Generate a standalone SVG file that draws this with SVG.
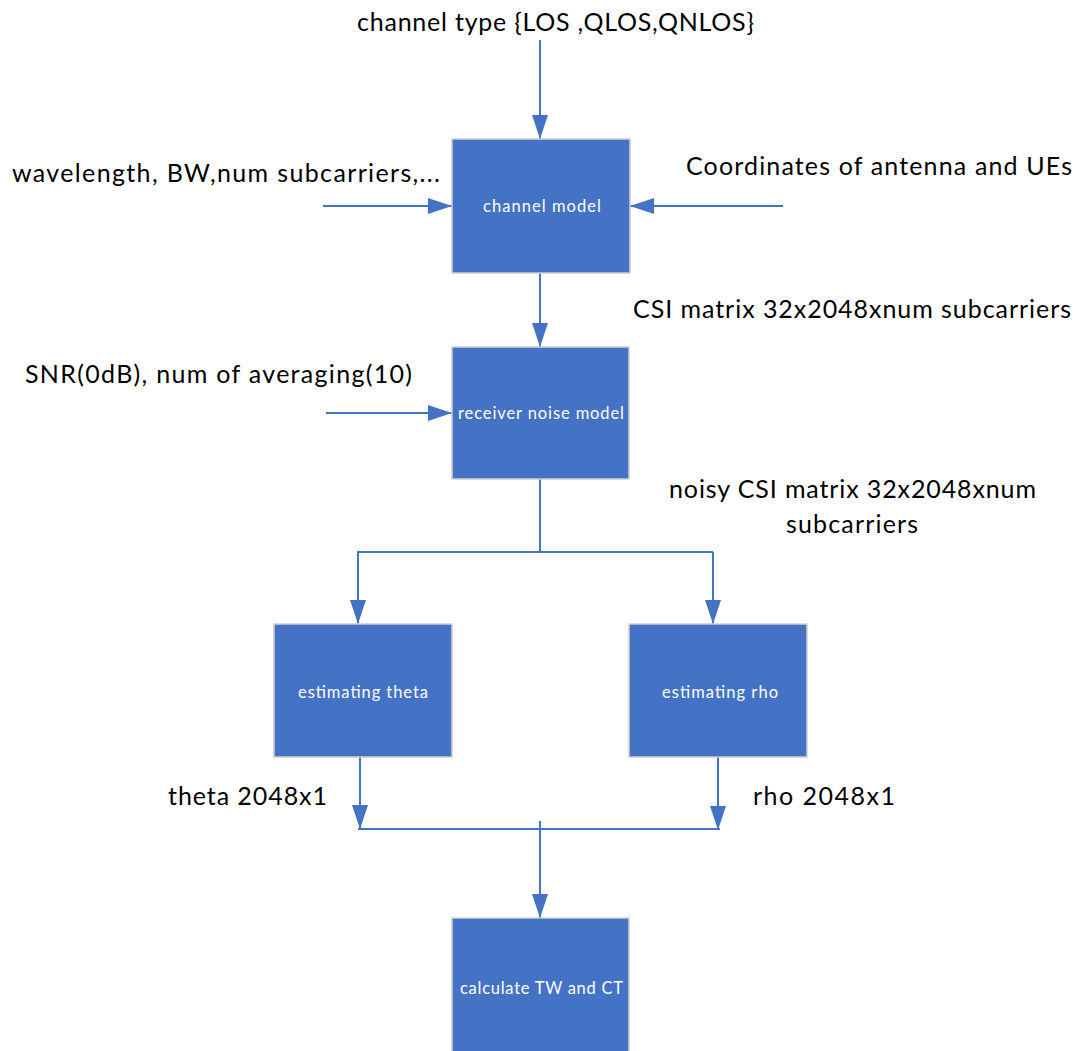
<svg xmlns="http://www.w3.org/2000/svg" width="1082" height="1051" viewBox="0 0 1082 1051">
<defs>
<marker id="ah" markerUnits="userSpaceOnUse" markerWidth="24" markerHeight="16" viewBox="0 0 24 16" refX="24" refY="8" orient="auto">
<path d="M0,0 L24,8 L0,16 Z" fill="#4472C4"/>
</marker>
<style>
.box{fill:#4472C4;stroke:#cfcfcf;stroke-width:1.5}
.in{font-family:Lato,"Liberation Sans",sans-serif;font-size:16.5px;fill:#ffffff}
.lbl{font-family:Lato,"Liberation Sans",sans-serif;font-size:25px;fill:#000000}
.c{fill:none;stroke:#4472C4;stroke-width:2}
</style>
</defs>
<rect width="1082" height="1051" fill="#ffffff"/>
<g id="connectors">
<line class="c" x1="540" y1="40" x2="540" y2="139" marker-end="url(#ah)"/>
<line class="c" x1="323" y1="206" x2="452" y2="206" marker-end="url(#ah)"/>
<line class="c" x1="783" y1="206" x2="630" y2="206" marker-end="url(#ah)"/>
<line class="c" x1="540" y1="273" x2="540" y2="347" marker-end="url(#ah)"/>
<line class="c" x1="326" y1="413" x2="452" y2="413" marker-end="url(#ah)"/>
<line class="c" x1="540" y1="479" x2="540" y2="552"/>
<line class="c" x1="357" y1="552" x2="713" y2="552"/>
<line class="c" x1="358" y1="552" x2="358" y2="624" marker-end="url(#ah)"/>
<line class="c" x1="713" y1="552" x2="713" y2="624" marker-end="url(#ah)"/>
<line class="c" x1="360" y1="757" x2="360" y2="829" marker-end="url(#ah)"/>
<line class="c" x1="718" y1="757" x2="718" y2="830" marker-end="url(#ah)"/>
<line class="c" x1="358" y1="829" x2="720" y2="829"/>
<line class="c" x1="540" y1="821" x2="540" y2="918" marker-end="url(#ah)"/>
</g>
<g id="channel-model">
<rect class="box" x="452" y="139" width="178" height="134"/>
<text class="in" x="483" y="212" textLength="118" lengthAdjust="spacing">channel model</text>
</g>
<g id="receiver-noise-model">
<rect class="box" x="452" y="347" width="177" height="132"/>
<text class="in" x="458" y="419" textLength="166" lengthAdjust="spacing">receiver noise model</text>
</g>
<g id="estimating-theta">
<rect class="box" x="274" y="624" width="178" height="133"/>
<text class="in" x="298" y="698" textLength="130" lengthAdjust="spacing">estimating theta</text>
</g>
<g id="estimating-rho">
<rect class="box" x="629" y="624" width="178" height="133"/>
<text class="in" x="662" y="698" textLength="116" lengthAdjust="spacing">estimating rho</text>
</g>
<g id="calculate-tw-ct">
<rect class="box" x="452" y="918" width="177" height="136"/>
<text class="in" x="460" y="994" textLength="163" lengthAdjust="spacing">calculate TW and CT</text>
</g>
<g id="labels">
<text class="lbl" x="357" y="31" textLength="397" lengthAdjust="spacing">channel type {LOS ,QLOS,QNLOS}</text>
<text class="lbl" x="12" y="182" textLength="428" lengthAdjust="spacing">wavelength, BW,num subcarriers,...</text>
<text class="lbl" x="686" y="175" textLength="386" lengthAdjust="spacing">Coordinates of antenna and UEs</text>
<text class="lbl" x="633" y="318" textLength="438" lengthAdjust="spacing">CSI matrix 32x2048xnum subcarriers</text>
<text class="lbl" x="25" y="383" textLength="387" lengthAdjust="spacing">SNR(0dB), num of averaging(10)</text>
<text class="lbl" x="669" y="498" textLength="367" lengthAdjust="spacing">noisy CSI matrix 32x2048xnum</text>
<text class="lbl" x="786" y="533" textLength="132" lengthAdjust="spacing">subcarriers</text>
<text class="lbl" x="168" y="805" textLength="159" lengthAdjust="spacing">theta 2048x1</text>
<text class="lbl" x="753" y="805" textLength="142" lengthAdjust="spacing">rho 2048x1</text>
</g>
</svg>
